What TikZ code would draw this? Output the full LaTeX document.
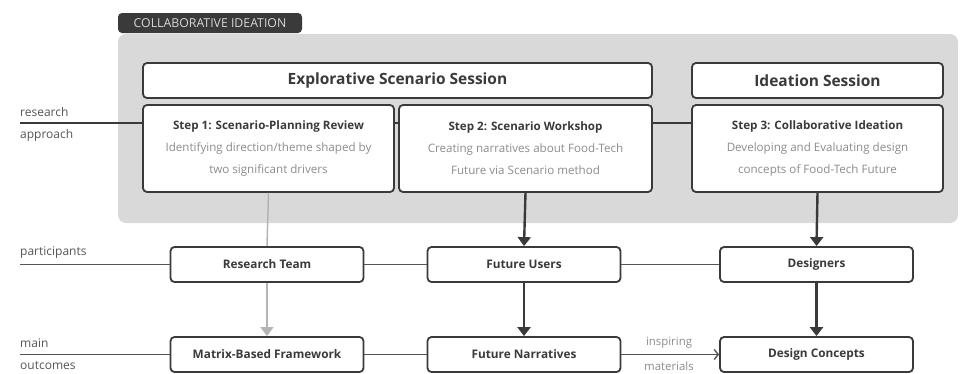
\documentclass[tikz,border=0pt]{standalone}
\usepackage{fontspec}
\setmainfont{Open Sans}
\usetikzlibrary{arrows.meta}
\definecolor{ink}{HTML}{3A3A3A}
\definecolor{panel}{HTML}{D9D9D9}
\definecolor{desc}{HTML}{8C8C8C}
\definecolor{side}{HTML}{555555}
\definecolor{soft}{HTML}{B4B4B4}
\definecolor{tagtext}{HTML}{D6D6D6}
\tikzset{
  box/.style={draw=ink, line width=1.8pt, fill=white, rounded corners=4pt,
    inner sep=0pt, align=center, text=ink},
  headbox/.style={box, minimum height=35pt, font=\fontsize{15.5}{17}\selectfont\bfseries},
  stepbox/.style={box, minimum height=87pt, font=\fontsize{11.6}{22}\selectfont},
  rolebox/.style={box, minimum width=193pt, minimum height=35pt,
    font=\fontsize{11.8}{13}\selectfont\bfseries},
  sidelabel/.style={anchor=west, inner sep=0pt, text=side, font=\fontsize{12}{14}\selectfont},
  notelabel/.style={inner sep=0pt, text=desc, font=\fontsize{11.4}{13}\selectfont},
  conn/.style={draw=ink, line width=1.8pt},
  thin/.style={draw=side, line width=1.3pt},
  flow/.style={draw=ink, line width=2.4pt, -{Triangle[width=13pt,length=9pt]}},
  faint/.style={draw=soft, line width=1.5pt},
}
\begin{document}
\begin{tikzpicture}[x=1pt,y=-1pt]
\useasboundingbox (0,0) rectangle (962,373);

% grey panel holding the two sessions
\fill[panel, rounded corners=8pt] (118,34) rectangle (958,223);
\node (tag) [fill=ink, rounded corners=4pt, minimum width=184pt, minimum height=20pt,
  inner sep=0pt, text=tagtext, font=\fontsize{12.3}{14}\selectfont] at (210,23)
  {COLLABORATIVE IDEATION};

% session headers
\node (es) [headbox, minimum width=509pt] at (397.5,80.5) {Explorative Scenario Session};
\node (is) [headbox, minimum width=251pt] at (817.5,80.5) {Ideation Session};

% steps
\node (s1) [stepbox, minimum width=251pt] at (268.5,148.5)
  {\textbf{Step 1: Scenario-Planning Review}\\
   \textcolor{desc}{Identifying direction/theme shaped by}\\
   \textcolor{desc}{two significant drivers}};
\node (s2) [stepbox, minimum width=253pt] at (525.5,148.5)
  {\textbf{Step 2: Scenario Workshop}\\
   \textcolor{desc}{Creating narratives about Food-Tech}\\
   \textcolor{desc}{Future via Scenario method}};
\node (s3) [stepbox, minimum width=251pt] at (817.5,148.5)
  {\textbf{Step 3: Collaborative Ideation}\\
   \textcolor{desc}{Developing and Evaluating design}\\
   \textcolor{desc}{concepts of Food-Tech Future}};

% participants and outcomes
\node (rt) [rolebox] at (267,264.5) {Research Team};
\node (fu) [rolebox] at (524,264.5) {Future Users};
\node (dg) [rolebox] at (816.5,264.5) {Designers};
\node (mf) [rolebox] at (267,354.5) {Matrix-Based Framework};
\node (fn) [rolebox] at (524,354.5) {Future Narratives};
\node (dc) [rolebox] at (816.5,354.5) {Design Concepts};

% row labels on the left
\coordinate (ra) at (20,123);
\coordinate (pa) at (20,264.5);
\coordinate (mo) at (20,354.5);
\node (l1) [sidelabel] at (20,112) {research};
\node (l2) [sidelabel] at (20,135) {approach};
\node (l3) [sidelabel] at (20,253) {participants};
\node (l4) [sidelabel] at (20,343) {main};
\node (l5) [sidelabel] at (20,366) {outcomes};

% connectors
\draw[conn] (ra) -- (ra -| s1.west);
\draw[conn] (s1.east |- ra) -- (s2.west |- ra);
\draw[conn] (s2.east |- ra) -- (s3.west |- ra);
\draw[thin] (pa) -- (rt.west);
\draw[thin] (rt.east) -- (fu.west);
\draw[thin] (fu.east) -- (dg.west);
\draw[thin] (mo) -- (mf.west);
\draw[thin] (mf.east) -- (fn.west);
\draw[thin, -{Straight Barb[length=4pt,width=10pt,line width=1.4pt]}] (fn.east) -- (dc.west);
\node (im1) [notelabel] at (669,343) {inspiring};
\node (im2) [notelabel] at (669,366) {materials};

% flows between stages
\draw[faint] (s1.south) -- (rt.north);
\draw[faint, -{Triangle[width=13pt,length=9pt]}] (rt.south) -- (mf.north);
\draw[flow] (s2.south) -- (fu.north);
\draw[flow] (s3.south) -- (dg.north);
\draw[flow] (fu.south) -- (fn.north);
\draw[flow] (dg.south) -- (dc.north);

\end{tikzpicture}
\end{document}
